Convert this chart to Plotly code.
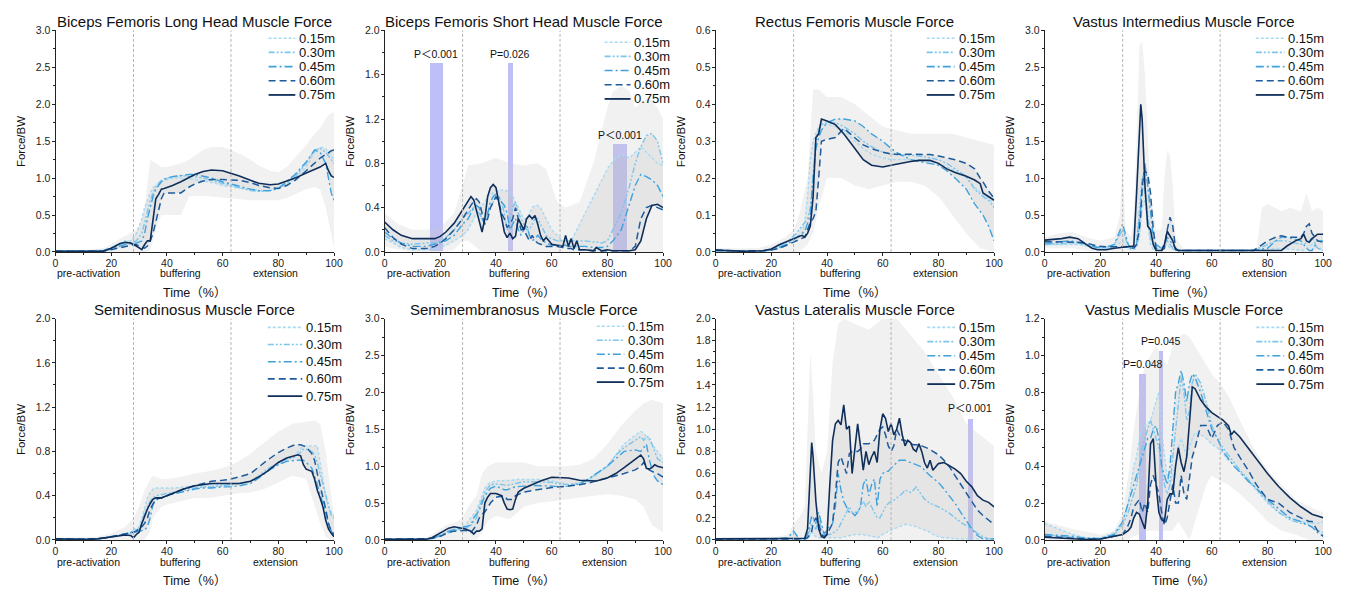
import numpy as np
import plotly.graph_objects as go

# ---------------- DATA ----------------
SERIES = ["0.15m", "0.30m", "0.45m", "0.60m", "0.75m"]
PHASE_BOUNDS = [28, 63]
PHASE_LABELS = ["pre-activation", "buffering", "extension"]
PHASE_LABEL_X = [12, 45, 79]
X_TICKS = [0, 20, 40, 60, 80, 100]

# Biceps Femoris Long Head
x_bflh = [0,10,17,20,23,25,27,29,31,32, 33,34,35,36,37,38,39,40,42,45, 48,50,53,56,60,63,66,70,73,77, 80,83,86,90,93,95,97,98,99,100]
bflh_015 = [0.01,0.01,0.02,0.06,0.12,0.15,0.15,0.25,0.45,0.60, 0.70,0.80,0.87,0.90,0.93,0.95,0.97,0.98,1.00,1.00, 0.99,0.98,0.96,0.94,0.90,0.88,0.86,0.84,0.83,0.83, 0.86,0.92,1.00,1.15,1.35,1.42,1.40,1.35,1.30,1.25]
bflh_030 = [0.01,0.01,0.02,0.05,0.10,0.13,0.12,0.15,0.25,0.40, 0.55,0.70,0.80,0.88,0.93,0.97,0.99,1.00,1.02,1.03, 1.03,1.02,1.00,0.97,0.92,0.89,0.86,0.83,0.82,0.83, 0.86,0.93,1.02,1.20,1.38,1.40,1.35,1.30,1.25,1.20]
bflh_045 = [0.01,0.01,0.01,0.04,0.08,0.10,0.11,0.12,0.15,0.25, 0.45,0.60,0.75,0.85,0.90,0.95,0.98,1.00,1.02,1.04, 1.05,1.05,1.03,1.00,0.95,0.92,0.88,0.85,0.83,0.83, 0.86,0.95,1.05,1.22,1.38,1.35,1.20,1.00,0.80,0.70]
bflh_060 = [0.01,0.01,0.01,0.03,0.06,0.08,0.09,0.10,0.07,0.05, 0.08,0.15,0.25,0.40,0.55,0.72,0.80,0.80,0.80,0.80, 0.88,0.92,0.96,0.98,0.98,0.98,0.97,0.94,0.90,0.87, 0.86,0.90,0.97,1.10,1.20,1.27,1.32,1.35,1.37,1.38]
bflh_075 = [0.01,0.01,0.01,0.05,0.11,0.13,0.12,0.08,0.03,0.10, 0.15,0.15,0.45,0.72,0.78,0.85,0.86,0.87,0.90,0.95, 1.01,1.05,1.09,1.11,1.10,1.07,1.03,0.97,0.93,0.91, 0.92,0.96,1.00,1.07,1.12,1.15,1.20,1.10,1.03,1.01]
bflh_band_x = [0,10,17,20,23,27,30,32,33,34, 36,38,40,45,48,50,53,56,60,63, 66,70,73,77,80,83,86,90,93,95, 97,98,99,100]
bflh_band_hi = [0.02,0.02,0.05,0.10,0.18,0.26,0.32,0.6,0.9,1.25, 1.2,1.15,1.15,1.2,1.25,1.3,1.38,1.42,1.42,1.38, 1.33,1.25,1.17,1.1,1.08,1.15,1.28,1.45,1.6,1.68, 1.8,1.85,1.88,1.9]
bflh_band_lo = [0,0,0,0,0,0,0,0,0,0.02, 0.3,0.5,0.5,0.5,0.75,0.76,0.76,0.75,0.73,0.72, 0.71,0.7,0.7,0.7,0.7,0.73,0.78,0.85,0.88,0.85, 0.6,0.4,0.2,0.05]

# Biceps Femoris Short Head
x_bfsh = [0,3,6,10,15,18,20,22,25,28, 30,31,32,33,34,35,36,37,38,39, 40,41,42,43,44,45,46,47,48,49, 50,51,52,53,54,55,56,57,58,59, 60,62,64,65,66,67,68,69,70,72, 75,76,78,80,82,85,88,90,92,94, 96,98,100]
bfsh_015 = [0.12,0.08,0.04,0.02,0.02,0.03,0.04,0.06,0.10,0.15, 0.20,0.25,0.30,0.35,0.40,0.42,0.45,0.50,0.52,0.53, 0.55,0.55,0.56,0.56,0.55,0.52,0.50,0.45,0.40,0.35, 0.30,0.30,0.35,0.40,0.42,0.42,0.40,0.35,0.30,0.25, 0.20,0.15,0.10,0.10,0.10,0.10,0.15,0.20,0.25,0.35, 0.50,0.55,0.65,0.75,0.82,0.88,0.85,0.90,0.95,0.90, 0.85,0.80,0.78]
bfsh_030 = [0.15,0.10,0.08,0.07,0.08,0.08,0.10,0.13,0.20,0.30, 0.35,0.38,0.40,0.38,0.35,0.30,0.30,0.35,0.40,0.45, 0.50,0.50,0.45,0.35,0.20,0.30,0.40,0.45,0.35,0.30, 0.25,0.20,0.20,0.25,0.30,0.30,0.25,0.20,0.15,0.13, 0.12,0.10,0.10,0.10,0.10,0.10,0.10,0.10,0.10,0.10, 0.09,0.09,0.08,0.10,0.20,0.35,0.60,0.80,0.95,1.05, 1.07,1.00,0.80]
bfsh_045 = [0.18,0.12,0.08,0.05,0.05,0.07,0.08,0.10,0.15,0.25, 0.30,0.35,0.40,0.42,0.40,0.30,0.25,0.35,0.45,0.50, 0.52,0.50,0.45,0.42,0.35,0.20,0.25,0.30,0.20,0.15, 0.20,0.25,0.15,0.10,0.12,0.15,0.12,0.10,0.08,0.07, 0.06,0.06,0.06,0.06,0.05,0.05,0.05,0.05,0.05,0.05, 0.04,0.04,0.04,0.05,0.10,0.20,0.45,0.60,0.70,0.68, 0.65,0.60,0.50]
bfsh_060 = [0.22,0.13,0.07,0.03,0.03,0.05,0.08,0.12,0.20,0.30, 0.38,0.42,0.46,0.48,0.45,0.35,0.25,0.30,0.40,0.45, 0.50,0.45,0.35,0.30,0.22,0.25,0.30,0.40,0.30,0.20, 0.20,0.15,0.10,0.15,0.10,0.08,0.07,0.06,0.05,0.05, 0.05,0.05,0.04,0.04,0.03,0.03,0.02,0.02,0.02,0.02, 0.01,0.01,0.01,0.01,0.01,0.01,0.01,0.05,0.30,0.40, 0.42,0.40,0.38]
bfsh_075 = [0.27,0.20,0.15,0.12,0.12,0.12,0.14,0.18,0.26,0.38, 0.47,0.50,0.47,0.38,0.28,0.18,0.30,0.50,0.58,0.61, 0.58,0.45,0.30,0.18,0.13,0.17,0.12,0.14,0.30,0.25, 0.20,0.30,0.33,0.30,0.33,0.25,0.15,0.10,0.13,0.10, 0.07,0.06,0.05,0.15,0.05,0.12,0.03,0.10,0.02,0.02, 0.01,0.04,0.01,0.02,0.01,0.01,0.01,0.02,0.10,0.30, 0.42,0.43,0.40]
bfsh_band_x = [0,5,10,15,20,25,28,30,35,40, 45,50,55,58,60,62,65,70,75,78, 80,82,85,88,90,92,95,98,100]
bfsh_band_hi = [0.35,0.25,0.2,0.2,0.22,0.35,0.6,0.78,0.8,0.85, 0.8,0.78,0.8,0.75,0.6,0.45,0.4,0.45,0.8,1.1, 1.3,1.45,1.5,1.45,1.3,1.35,1.4,1.3,1.2]
bfsh_band_lo = [0.05,0.02,0,0,0,0.02,0.1,0.1,0,0, 0,0,0,0,0,0,0,0,0,0, 0,0,0,0,0,0,0,0,0]

# Rectus Femoris
x_rf = [0,10,17,20,23,26,29,31,32,33, 34,35,36,37,38,40,43,46,50,53, 56,60,63,66,70,73,77,80,83,86, 90,93,95,96,98,100]
rf_015 = [0.005,0.002,0.003,0.007,0.015,0.025,0.04,0.05,0.08,0.15, 0.25,0.3,0.32,0.34,0.345,0.345,0.34,0.33,0.3,0.28, 0.265,0.255,0.25,0.25,0.25,0.25,0.245,0.24,0.23,0.22, 0.2,0.175,0.16,0.155,0.145,0.13]
rf_030 = [0.004,0.002,0.003,0.007,0.015,0.03,0.05,0.07,0.08,0.09, 0.12,0.22,0.3,0.33,0.345,0.35,0.35,0.34,0.32,0.3, 0.285,0.27,0.265,0.262,0.262,0.26,0.255,0.25,0.24,0.225, 0.205,0.17,0.155,0.15,0.14,0.12]
rf_045 = [0.003,0.002,0.003,0.006,0.012,0.022,0.04,0.05,0.055,0.08, 0.1,0.2,0.28,0.31,0.33,0.35,0.36,0.36,0.355,0.34, 0.32,0.3,0.28,0.265,0.25,0.245,0.24,0.235,0.22,0.2, 0.17,0.13,0.11,0.1,0.07,0.03]
rf_060 = [0.005,0.002,0.003,0.005,0.01,0.02,0.03,0.035,0.04,0.06, 0.08,0.09,0.11,0.2,0.3,0.305,0.31,0.335,0.31,0.29, 0.28,0.27,0.265,0.265,0.265,0.265,0.264,0.26,0.255,0.25, 0.24,0.225,0.2,0.19,0.165,0.145]
rf_075 = [0.005,0.002,0.003,0.008,0.02,0.03,0.04,0.045,0.04,0.05, 0.07,0.15,0.31,0.32,0.36,0.355,0.345,0.32,0.28,0.25, 0.235,0.23,0.235,0.24,0.245,0.248,0.248,0.24,0.225,0.215, 0.205,0.195,0.185,0.16,0.15,0.14]
rf_band_x = [0,15,20,25,28,30,33,35,37,40, 45,50,55,60,65,70,75,80,85,90, 95,100]
rf_band_hi = [0.01,0.01,0.02,0.04,0.06,0.1,0.2,0.44,0.44,0.42, 0.42,0.4,0.37,0.34,0.33,0.32,0.32,0.32,0.32,0.31, 0.3,0.29]
rf_band_lo = [0,0,0,0,0,0,0.02,0.05,0.12,0.2, 0.2,0.18,0.17,0.18,0.19,0.19,0.18,0.15,0.1,0.05, 0.01,0]

# Vastus Intermedius
x_vi = [0,3,6,9,12,15,17,19,22,25, 28,30,31,32,33,34,34.5,35,36,37, 38,39,40,42,43,44,45,46,47,48, 50,55,60,65,70,75, 80,83,85,87,90,92,93,94,95,96,98,100]
vi_015 = [0.10,0.10,0.10,0.10,0.10,0.08,0.07,0.05,0.05,0.07, 0.15,0.05,0.03,0.03,0.05,0.20,0.40,0.60,0.70,0.40, 0.10,0.03,0.03,0.05,0.08,0.10,0.05,0.03,0.02,0.02, 0.02,0.02,0.02,0.02,0.02,0.02, 0.03,0.05,0.05,0.04,0.03,0.02,0.02,0.05,0.08,0.10,0.05,0.03]
vi_030 = [0.10,0.10,0.11,0.12,0.12,0.10,0.08,0.06,0.07,0.10, 0.30,0.08,0.05,0.05,0.10,0.50,0.70,1.00,0.80,0.50, 0.20,0.10,0.08,0.05,0.10,0.15,0.10,0.05,0.03,0.02, 0.02,0.02,0.02,0.02,0.02,0.02, 0.10,0.15,0.15,0.15,0.12,0.10,0.10,0.12,0.15,0.20,0.05,0.02]
vi_045 = [0.12,0.12,0.14,0.15,0.13,0.10,0.08,0.06,0.06,0.10, 0.38,0.10,0.05,0.05,0.10,0.40,0.60,0.90,1.20,0.90, 0.50,0.20,0.10,0.05,0.10,0.20,0.15,0.10,0.05,0.02, 0.02,0.02,0.02,0.02,0.02,0.02, 0.05,0.15,0.20,0.20,0.17,0.15,0.10,0.05,0.02,0.02,0.15,0.15]
vi_060 = [0.14,0.14,0.13,0.13,0.13,0.12,0.10,0.08,0.07,0.07, 0.08,0.07,0.06,0.05,0.10,0.30,0.50,0.90,1.10,1.05, 0.80,0.30,0.05,0.02,0.05,0.30,0.47,0.35,0.05,0.02, 0.02,0.02,0.02,0.02,0.02,0.02, 0.15,0.20,0.22,0.20,0.20,0.20,0.25,0.35,0.38,0.25,0.15,0.13]
vi_075 = [0.16,0.17,0.18,0.20,0.18,0.10,0.05,0.03,0.03,0.05, 0.06,0.07,0.07,0.08,0.80,1.60,2.00,1.80,0.90,0.35, 0.30,0.10,0.02,0.02,0.10,0.28,0.22,0.15,0.03,0.02, 0.02,0.02,0.02,0.02,0.02,0.02, 0.02,0.02,0.02,0.08,0.15,0.18,0.24,0.15,0.13,0.18,0.24,0.24]
vi_band_x = [0,5,10,15,20,25,27,28,29,31, 32,33,34,35,36,37,38,40,42,43, 44,45,46,47,50,76,78,80,85,88, 92,94,96,98,100]
vi_band_hi = [0.2,0.25,0.27,0.2,0.15,0.2,0.5,1.2,0.3,0.2, 0.5,1.5,2.8,2.85,2.4,1.5,0.8,0.3,0.3,1.0, 1.38,1.3,0.9,0.2,0.03,0.03,0.6,0.65,0.55,0.6, 0.55,0.8,0.55,0.6,0.55]
vi_band_lo = [0.05,0.05,0.05,0.02,0,0,0,0,0,0, 0,0,0,0,0,0,0,0,0,0, 0,0,0,0,0,0,0,0,0,0, 0,0,0,0,0]

# Semitendinosus
x_st = [0,10,15,18,20,22,25,27,28,29, 30,31,32,33,34,35,36,38,40,43, 46,50,53,56,60,63,66,70,73,76, 80,83,86,87,88,89,90,92,93,94, 95,96,97,98,99,100]
st_015 = [0.01,0.01,0.01,0.02,0.03,0.04,0.05,0.07,0.10,0.10, 0.12,0.20,0.30,0.38,0.43,0.46,0.47,0.47,0.47,0.47, 0.48,0.49,0.49,0.50,0.50,0.50,0.51,0.53,0.57,0.62, 0.68,0.72,0.76,0.80,0.83,0.85,0.85,0.85,0.85,0.85, 0.70,0.55,0.40,0.30,0.25,0.22]
st_030 = [0.01,0.01,0.01,0.02,0.03,0.04,0.05,0.07,0.08,0.09, 0.10,0.15,0.25,0.30,0.35,0.38,0.40,0.41,0.42,0.44, 0.45,0.47,0.48,0.48,0.49,0.50,0.51,0.53,0.58,0.64, 0.70,0.73,0.75,0.77,0.80,0.82,0.82,0.80,0.77,0.70, 0.60,0.50,0.40,0.30,0.22,0.20]
st_045 = [0.01,0.01,0.01,0.02,0.03,0.04,0.05,0.06,0.07,0.07, 0.08,0.08,0.09,0.12,0.20,0.32,0.36,0.38,0.40,0.42, 0.44,0.46,0.47,0.47,0.48,0.48,0.49,0.51,0.56,0.62, 0.68,0.71,0.72,0.72,0.72,0.72,0.70,0.65,0.58,0.50, 0.42,0.35,0.25,0.15,0.08,0.04]
st_060 = [0.01,0.01,0.01,0.02,0.03,0.04,0.05,0.06,0.07,0.08, 0.10,0.12,0.15,0.20,0.28,0.33,0.37,0.38,0.40,0.43, 0.46,0.49,0.51,0.53,0.54,0.55,0.57,0.60,0.66,0.72, 0.79,0.83,0.86,0.86,0.86,0.85,0.84,0.78,0.72,0.60, 0.50,0.40,0.28,0.15,0.08,0.05]
st_075 = [0.01,0.005,0.01,0.02,0.03,0.04,0.045,0.04,0.02,0.05, 0.07,0.15,0.22,0.28,0.33,0.37,0.38,0.38,0.40,0.43, 0.46,0.49,0.50,0.51,0.51,0.51,0.51,0.53,0.57,0.62, 0.70,0.74,0.76,0.77,0.76,0.68,0.64,0.62,0.55,0.45, 0.38,0.30,0.18,0.10,0.06,0.03]
st_band_x = [0,15,20,25,28,30,32,34,35,38, 40,45,50,55,60,65,70,75,80,85, 90,93,95,97,99,100]
st_band_hi = [0.02,0.03,0.06,0.12,0.2,0.3,0.45,0.55,0.58,0.55, 0.55,0.57,0.6,0.62,0.65,0.7,0.78,0.88,0.98,1.05, 1.07,1.08,1.05,0.8,0.4,0.2]
st_band_lo = [0,0,0,0,0,0,0,0.08,0.2,0.3, 0.32,0.35,0.38,0.38,0.4,0.42,0.43,0.46,0.52,0.58, 0.55,0.3,0.15,0.03,0,0]

# Semimembranosus
x_sm = [0,10,15,17,20,23,25,27,29,31, 32,33,34,35,36,37,38,40,42,43, 44,45,46,47,48,50,53,56,60,63, 66,70,73,76,80,83,86,90,92,93, 94,95,96,97,98,100]
sm_015 = [0.01,0.01,0.01,0.03,0.08,0.12,0.15,0.17,0.20,0.30, 0.35,0.40,0.50,0.60,0.70,0.75,0.78,0.80,0.80,0.80, 0.80,0.80,0.81,0.82,0.82,0.83,0.83,0.82,0.80,0.77, 0.75,0.76,0.80,0.88,1.00,1.15,1.30,1.42,1.47,1.45, 1.40,1.35,1.30,1.25,1.20,1.10]
sm_030 = [0.01,0.01,0.01,0.02,0.05,0.10,0.13,0.14,0.15,0.20, 0.25,0.30,0.45,0.55,0.65,0.70,0.75,0.76,0.75,0.74, 0.74,0.75,0.76,0.77,0.78,0.79,0.79,0.79,0.78,0.76, 0.75,0.77,0.82,0.90,1.00,1.15,1.25,1.35,1.40,1.35, 1.40,1.40,1.30,1.20,1.10,1.05]
sm_045 = [0.01,0.01,0.01,0.03,0.06,0.12,0.14,0.15,0.17,0.20, 0.30,0.35,0.40,0.50,0.60,0.65,0.70,0.73,0.70,0.68, 0.68,0.70,0.71,0.72,0.72,0.73,0.74,0.74,0.73,0.72, 0.73,0.76,0.82,0.90,1.00,1.10,1.20,1.22,1.20,1.25, 1.30,1.10,0.95,0.85,0.80,0.75]
sm_060 = [0.01,0.01,0.01,0.02,0.05,0.10,0.12,0.13,0.13,0.10, 0.15,0.20,0.30,0.35,0.38,0.45,0.50,0.58,0.60,0.60, 0.55,0.55,0.55,0.60,0.62,0.65,0.67,0.69,0.71,0.72, 0.73,0.75,0.77,0.80,0.83,0.86,0.90,0.95,1.00,1.05, 1.00,0.95,0.93,0.92,0.90,0.85]
sm_075 = [0.01,0.01,0.01,0.03,0.10,0.16,0.18,0.17,0.15,0.12, 0.08,0.12,0.12,0.15,0.50,0.58,0.63,0.63,0.60,0.50, 0.42,0.41,0.42,0.55,0.65,0.70,0.75,0.80,0.85,0.85, 0.84,0.81,0.80,0.80,0.84,0.90,0.98,1.10,1.15,1.10, 0.97,0.96,0.98,1.02,1.00,0.98]
sm_band_x = [0,15,18,22,26,28,30,33,35,37, 40,45,50,55,60,65,70,75,80,85, 90,93,96,100]
sm_band_hi = [0.02,0.03,0.1,0.2,0.25,0.3,0.45,0.6,0.9,1.0, 1.05,1.05,1.05,1.0,1.0,1.0,1.02,1.1,1.3,1.55, 1.75,1.85,1.9,1.85]
sm_band_lo = [0,0,0,0,0,0,0,0,0.1,0.25, 0.33,0.28,0.45,0.5,0.52,0.55,0.58,0.6,0.62,0.6, 0.55,0.45,0.2,0.1]

# Vastus Lateralis
x_vl = [0,10,20,26,28,30,32,33,34,34.5, 35,36,37,38,39,40,41,42,43,44, 45,46,47,48,49,50,51,52,53,54, 55,56,57,58,59,60,61,62,63,64, 65,66,67,68,69,70,71,72,73,74, 75,76,77,78,80,82,84,86,88,90, 92,94,96,98,100]
vl_015 = [0.01,0.01,0.01,0.01,0.01,0.01,0.01,0.02,0.05,0.08, 0.05,0.03,0.02,0.02,0.02,0.02,0.02,0.02,0.02,0.02, 0.02,0.03,0.03,0.04,0.04,0.05,0.05,0.05,0.05,0.04, 0.04,0.03,0.03,0.02,0.03,0.05,0.06,0.08,0.09,0.10, 0.11,0.12,0.13,0.14,0.14,0.13,0.13,0.12,0.11,0.10, 0.09,0.08,0.07,0.05,0.03,0.02,0.02,0.01,0.01,0.01, 0.01,0.01,0.01,0.01,0.01]
vl_030 = [0.01,0.01,0.01,0.01,0.01,0.01,0.01,0.03,0.10,0.15, 0.12,0.10,0.20,0.10,0.05,0.05,0.05,0.06,0.08,0.10, 0.15,0.20,0.25,0.30,0.25,0.25,0.25,0.30,0.35,0.30, 0.35,0.30,0.25,0.20,0.20,0.25,0.30,0.33,0.35,0.36, 0.38,0.40,0.42,0.45,0.44,0.43,0.45,0.48,0.44,0.40, 0.37,0.35,0.33,0.32,0.30,0.27,0.24,0.20,0.16,0.13, 0.10,0.06,0.03,0.01,0.01]
vl_045 = [0.01,0.01,0.01,0.02,0.08,0.01,0.01,0.05,0.15,0.22, 0.20,0.15,0.25,0.15,0.05,0.10,0.12,0.15,0.30,0.60, 0.45,0.35,0.30,0.25,0.25,0.22,0.25,0.30,0.50,0.55, 0.40,0.50,0.55,0.30,0.55,0.60,0.62,0.62,0.65,0.67, 0.70,0.72,0.72,0.72,0.71,0.70,0.69,0.68,0.67,0.66, 0.63,0.60,0.58,0.56,0.52,0.46,0.40,0.33,0.25,0.17, 0.10,0.04,0.01,0.01,0.01]
vl_060 = [0.01,0.01,0.01,0.01,0.01,0.01,0.01,0.02,0.05,0.08, 0.15,0.20,0.15,0.05,0.03,0.05,0.10,0.15,0.40,0.70, 0.75,0.68,0.60,0.78,0.80,0.80,0.80,0.82,0.87,0.87, 0.87,0.88,0.90,0.95,1.00,1.02,0.95,0.85,0.80,0.85, 1.00,0.95,0.90,0.90,0.88,0.87,0.86,0.86,0.86,0.85, 0.84,0.83,0.82,0.80,0.77,0.72,0.66,0.58,0.50,0.42, 0.35,0.27,0.22,0.18,0.14]
vl_075 = [0.01,0.01,0.01,0.01,0.01,0.01,0.015,0.10,0.60,0.88, 0.75,0.35,0.10,0.03,0.02,0.05,0.50,0.90,1.05,1.08, 1.04,1.22,1.00,1.03,0.60,0.80,1.05,0.85,0.63,0.80, 0.68,0.75,0.80,0.70,1.00,1.14,1.10,0.98,1.05,0.95, 1.00,1.10,0.95,0.85,0.90,0.88,0.82,0.80,0.87,0.80, 0.70,0.65,0.72,0.63,0.69,0.70,0.67,0.64,0.60,0.53, 0.48,0.40,0.36,0.34,0.30]
vl_band_x = [0,20,26,28,30,32,33,34,35,36, 38,40,42,44,46,50,55,60,65,70, 75,80,85,90,95,100]
vl_band_hi = [0.02,0.02,0.05,0.15,0.2,0.3,1.0,1.7,1.3,0.8, 0.6,0.8,1.6,1.95,2.0,1.95,1.9,2.0,2.0,1.85, 1.7,1.5,1.3,1.05,0.95,0.85]
vl_band_lo = [0,0,0,0,0,0,0,0,0,0, 0,0,0,0,0,0,0,0,0,0, 0,0,0,0,0,0]

# Vastus Medialis
x_vm = [0,5,10,15,20,25,28, 30,31,32,33,34,35,36,37,38,39, 40,41,42,43,44,45,46,47,48,49, 50,51,52,53,54, 56,58,60,62,64,66,67,68,70,73, 76,80,84,88,92,95,96,98,100]
vm_015 = [0.09,0.06,0.03,0.01,0.01,0.04,0.10, 0.20,0.30,0.40,0.45,0.55,0.60,0.62,0.63,0.65,0.70, 0.75,0.80,0.60,0.45,0.35,0.30,0.35,0.40,0.50,0.55, 0.50,0.45,0.50,0.55,0.58, 0.57,0.55,0.52,0.50,0.47,0.43,0.42,0.40,0.37,0.32, 0.27,0.20,0.15,0.12,0.10,0.09,0.09,0.09,0.10]
vm_030 = [0.03,0.02,0.015,0.01,0.01,0.03,0.08, 0.15,0.20,0.25,0.30,0.40,0.50,0.55,0.60,0.65,0.60, 0.55,0.50,0.40,0.30,0.25,0.30,0.45,0.60,0.75,0.88, 0.80,0.65,0.70,0.85,0.90, 0.85,0.75,0.62,0.55,0.50,0.46,0.44,0.42,0.38,0.33, 0.28,0.21,0.15,0.11,0.09,0.08,0.07,0.05,0.04]
vm_045 = [0.03,0.025,0.02,0.01,0.005,0.03,0.10, 0.20,0.25,0.30,0.35,0.40,0.45,0.50,0.55,0.55,0.60, 0.62,0.55,0.40,0.35,0.30,0.40,0.60,0.80,0.85,0.92, 0.85,0.75,0.85,0.90,0.88, 0.80,0.70,0.60,0.55,0.48,0.44,0.42,0.40,0.37,0.32, 0.28,0.22,0.17,0.12,0.10,0.08,0.07,0.04,0.02]
vm_060 = [0.02,0.015,0.01,0.005,0.005,0.02,0.03, 0.08,0.12,0.18,0.20,0.22,0.15,0.20,0.15,0.30,0.35, 0.30,0.25,0.15,0.08,0.12,0.20,0.30,0.20,0.20,0.35, 0.25,0.22,0.35,0.45,0.50, 0.62,0.62,0.55,0.62,0.64,0.60,0.55,0.50,0.45,0.38, 0.30,0.22,0.20,0.15,0.12,0.10,0.10,0.05,0.02]
vm_075 = [0.015,0.01,0.005,0.003,0.005,0.02,0.03, 0.05,0.07,0.12,0.15,0.14,0.10,0.06,0.20,0.52,0.55, 0.30,0.15,0.11,0.10,0.22,0.25,0.25,0.40,0.50,0.42, 0.37,0.45,0.65,0.83,0.82, 0.76,0.72,0.69,0.67,0.65,0.62,0.57,0.59,0.56,0.50, 0.44,0.36,0.29,0.23,0.18,0.15,0.14,0.13,0.12]
vm_band_x = [0,10,20,25,28,30,32,34,36,38, 40,42,44,46,48,50,52,54,56,58, 60,63,66,70,75,80,85,90,95,100]
vm_band_hi = [0.1,0.06,0.03,0.05,0.15,0.35,0.6,0.8,0.95,1.0, 1.05,1.0,0.95,1.05,1.1,1.12,1.1,1.05,1.0,0.95, 0.9,0.85,0.78,0.65,0.5,0.38,0.3,0.22,0.18,0.15]
vm_band_lo = [0,0,0,0,0,0,0.02,0.03,0.05,0.05, 0.05,0.05,0.05,0.05,0.1,0.05,0.0,0.1,0.2,0.3, 0.35,0.32,0.3,0.25,0.18,0.1,0.05,0.03,0.0,0]

TITLES = ["Biceps Femoris Long Head Muscle Force", "Biceps Femoris Short Head Muscle Force",
          "Rectus Femoris Muscle Force", "Vastus Intermedius Muscle Force",
          "Semitendinosus Muscle Force", "Semimembranosus  Muscle Force",
          "Vastus Lateralis Muscle Force", "Vastus Medialis Muscle Force"]
Y_MAX = [3.0, 2.0, 0.6, 3.0, 2.0, 3.0, 2.0, 1.2]
Y_DTICK = [0.5, 0.4, 0.1, 0.5, 0.4, 0.5, 0.2, 0.2]

# significance regions (panel number 1-based)
P_PANEL = [2, 2, 2, 7, 8, 8]
P_X0 = [16.0, 44.3, 81.8, 90.6, 33.9, 41.1]
P_X1 = [21.0, 46.0, 87.0, 92.1, 36.4, 42.2]
P_H = [1.70, 1.70, 0.97, 1.10, 0.90, 1.025]
P_TEXT = ["P＜0.001", "P=0.026", "P＜0.001", "P＜0.001", "P=0.048", "P=0.045"]

PANELS = [
    (x_bflh, [bflh_015, bflh_030, bflh_045, bflh_060, bflh_075], bflh_band_x, bflh_band_hi, bflh_band_lo),
    (x_bfsh, [bfsh_015, bfsh_030, bfsh_045, bfsh_060, bfsh_075], bfsh_band_x, bfsh_band_hi, bfsh_band_lo),
    (x_rf, [rf_015, rf_030, rf_045, rf_060, rf_075], rf_band_x, rf_band_hi, rf_band_lo),
    (x_vi, [vi_015, vi_030, vi_045, vi_060, vi_075], vi_band_x, vi_band_hi, vi_band_lo),
    (x_st, [st_015, st_030, st_045, st_060, st_075], st_band_x, st_band_hi, st_band_lo),
    (x_sm, [sm_015, sm_030, sm_045, sm_060, sm_075], sm_band_x, sm_band_hi, sm_band_lo),
    (x_vl, [vl_015, vl_030, vl_045, vl_060, vl_075], vl_band_x, vl_band_hi, vl_band_lo),
    (x_vm, [vm_015, vm_030, vm_045, vm_060, vm_075], vm_band_x, vm_band_hi, vm_band_lo),
]

# ---------------- STYLE / LAYOUT ----------------
W, H = 1353, 594
FONT = "Liberation Sans, Arial, Noto Sans CJK SC, sans-serif"
COLORS = ["#a6daf3", "#7cc5ec", "#3fa2dd", "#1d5b9c", "#0f2f5a"]
DASHES = ["3px,2px", "6px,2px,2px,2px,2px,2px", "8px,3px,2px,3px", "7px,4px", "solid"]
WIDTHS = [1.4, 1.4, 1.4, 1.5, 1.6]
XDOM_PX = [(53, 334), (385, 666), (719, 1000), (1051, 1332)]
YDOM_PX = [(25, 251), (319, 545)]
# legend layout: (line x0, line x1, text x, first row y, row step) in axis-domain units
LEG = [(0.765, 0.861, 0.868, 0.965, 0.064), (0.79, 0.883, 0.89, 0.947, 0.064),
       (0.758, 0.858, 0.865, 0.965, 0.064), (0.758, 0.861, 0.868, 0.965, 0.064),
       (0.762, 0.886, 0.893, 0.960, 0.0775), (0.762, 0.861, 0.868, 0.965, 0.063),
       (0.76, 0.86, 0.868, 0.960, 0.064), (0.76, 0.86, 0.868, 0.960, 0.064)]

fig = go.Figure()
shapes, annotations = [], []
layout_axes = {}

for i, (xs, ys, bx, bhi, blo) in enumerate(PANELS):
    n = i + 1
    xa = "x" if n == 1 else f"x{n}"
    ya = "y" if n == 1 else f"y{n}"
    r, c = divmod(i, 4)
    px0, px1 = XDOM_PX[c]
    py0, py1 = YDOM_PX[r]
    dx = [px0 / W, px1 / W]
    dy = [1 - py1 / H, 1 - py0 / H]
    layout_axes["xaxis" if n == 1 else f"xaxis{n}"] = dict(
        domain=dx, anchor=ya, range=[0, 100], tickvals=X_TICKS, showgrid=False, zeroline=False,
        showline=True, linecolor="#222", linewidth=1, ticks="outside", ticklen=3, tickcolor="#222",
        ticklabelstandoff=-2,
        tickfont=dict(size=10.5, color="#222", family=FONT),
        minor=dict(dtick=10, ticks="outside", ticklen=2, tickcolor="#222"))
    layout_axes["yaxis" if n == 1 else f"yaxis{n}"] = dict(
        domain=dy, anchor=xa, range=[0, Y_MAX[i]], dtick=Y_DTICK[i], tick0=0, tickformat=".1f",
        showgrid=False, zeroline=False, showline=True, linecolor="#222", linewidth=1,
        ticks="outside", ticklen=3, tickcolor="#222", ticklabelstandoff=-1,
        tickfont=dict(size=10.5, color="#222", family=FONT),
        minor=dict(dtick=Y_DTICK[i] / 2, ticks="outside", ticklen=2, tickcolor="#222"))

    # outer SD band
    fig.add_trace(go.Scatter(x=bx, y=blo, mode="lines", line=dict(width=0), xaxis=xa, yaxis=ya,
                             showlegend=False, hoverinfo="skip"))
    fig.add_trace(go.Scatter(x=bx, y=bhi, mode="lines", line=dict(width=0), fill="tonexty",
                             fillcolor="rgba(205,205,205,0.27)", xaxis=xa, yaxis=ya,
                             showlegend=False, hoverinfo="skip"))
    # envelope of group means
    Y = np.array(ys)
    fig.add_trace(go.Scatter(x=xs, y=Y.min(axis=0), mode="lines", line=dict(width=0), xaxis=xa, yaxis=ya,
                             showlegend=False, hoverinfo="skip"))
    fig.add_trace(go.Scatter(x=xs, y=Y.max(axis=0), mode="lines", line=dict(width=0), fill="tonexty",
                             fillcolor="rgba(185,185,185,0.20)", xaxis=xa, yaxis=ya,
                             showlegend=False, hoverinfo="skip"))
    for k in range(5):
        fig.add_trace(go.Scatter(x=xs, y=ys[k], mode="lines", name=SERIES[k],
                                 line=dict(color=COLORS[k], dash=DASHES[k], width=WIDTHS[k]),
                                 xaxis=xa, yaxis=ya, showlegend=False))

    # phase boundaries
    for b in PHASE_BOUNDS:
        shapes.append(dict(type="line", xref=xa, yref=f"{ya} domain", x0=b, x1=b, y0=0, y1=1,
                           line=dict(color="#b5b5b5", width=1, dash="3px,2px")))
    # manual legend
    lx0, lx1, lt, ly, lstep = LEG[i]
    for k in range(5):
        yy = ly - k * lstep
        shapes.append(dict(type="line", xref=f"{xa} domain", yref=f"{ya} domain", x0=lx0, x1=lx1,
                           y0=yy, y1=yy, line=dict(color=COLORS[k], dash=DASHES[k], width=WIDTHS[k] + 0.2)))
        annotations.append(dict(text=SERIES[k], xref=f"{xa} domain", yref=f"{ya} domain", x=lt, y=yy,
                                xanchor="left", yanchor="middle", showarrow=False,
                                font=dict(size=13, color="#111", family=FONT)))
    # titles and labels
    cx = (px0 + px1) / 2 / W
    annotations.append(dict(text=TITLES[i], xref="paper", yref="paper", x=cx, y=1 - (py0 - 9) / H,
                            xanchor="center", yanchor="middle", showarrow=False,
                            font=dict(size=15, color="#111", family=FONT)))
    annotations.append(dict(text="Force/BW", xref="paper", yref="paper", x=(px0 - 35) / W,
                            y=1 - (py0 + py1) / 2 / H, textangle=-90, xanchor="center", yanchor="middle",
                            showarrow=False, font=dict(size=11.5, color="#111", family=FONT)))
    annotations.append(dict(text="Time（%）", xref="paper", yref="paper", x=cx, y=1 - (py1 + 42) / H,
                            xanchor="center", yanchor="middle", showarrow=False,
                            font=dict(size=12.5, color="#111", family=FONT)))
    for lab, lxv in zip(PHASE_LABELS, PHASE_LABEL_X):
        annotations.append(dict(text=lab, xref=xa, yref="paper", x=lxv, y=1 - (py1 + 22) / H,
                                xanchor="center", yanchor="middle", showarrow=False,
                                font=dict(size=10.5, color="#111", family=FONT)))

# significance bars
for pn, a, b, h, t in zip(P_PANEL, P_X0, P_X1, P_H, P_TEXT):
    xa = "x" if pn == 1 else f"x{pn}"
    ya = "y" if pn == 1 else f"y{pn}"
    fig.add_trace(go.Bar(x=[(a + b) / 2], y=[h], width=[b - a], xaxis=xa, yaxis=ya,
                         marker=dict(color="rgba(150,150,245,0.62)", line=dict(width=0)),
                         showlegend=False, hoverinfo="skip"))
    annotations.append(dict(text=t, xref=xa, yref=ya, x=(a + b) / 2, y=h, yanchor="bottom", yshift=2,
                            showarrow=False, font=dict(size=10.5, color="#111", family=FONT)))

fig.update_layout(width=W, height=H, margin=dict(l=0, r=0, t=0, b=0),
                  paper_bgcolor="white", plot_bgcolor="white", showlegend=False,
                  font=dict(family=FONT), shapes=shapes, annotations=annotations, bargap=0,
                  **layout_axes)

fig.write_html("out.html", config={"displayModeBar": False},
               post_script="document.body.style.margin='0px';"
                           "document.body.style.overflow='hidden';"
                           "document.documentElement.style.overflow='hidden';")
